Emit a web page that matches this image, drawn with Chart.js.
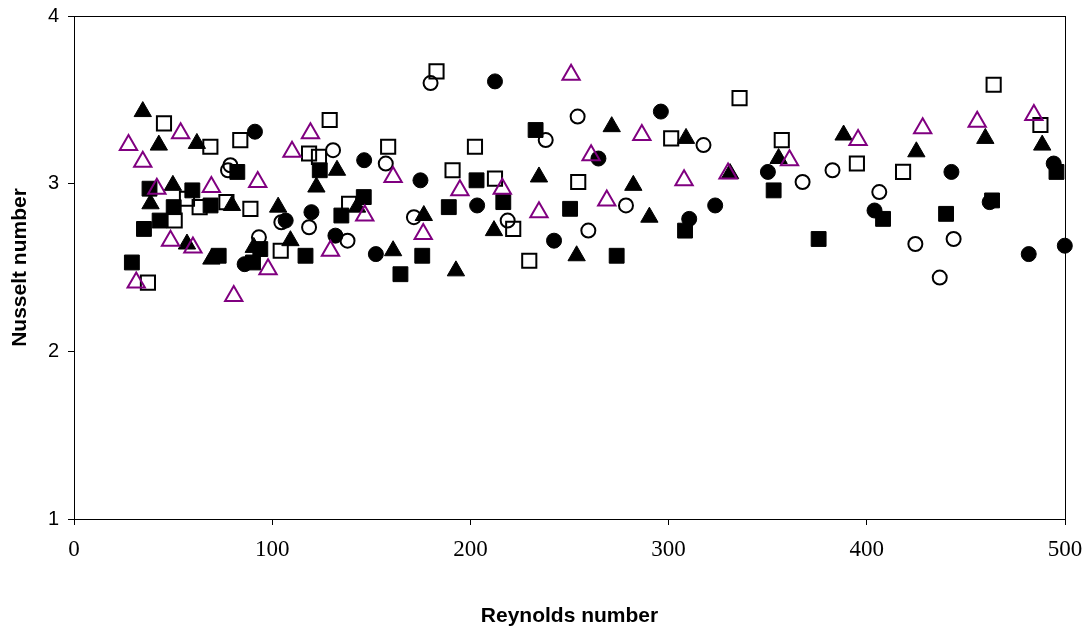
<!DOCTYPE html>
<html>
<head>
<meta charset="utf-8">
<script src="https://cdn.jsdelivr.net/npm/chart.js@4"></script>
<style>
  html, body { margin: 0; padding: 0; background: #fff; }
  #wrap { width: 1089px; height: 632px; }
</style>
</head>
<body>
<div id="wrap"><canvas id="nuChart" width="1089" height="632"></canvas></div>
<script>
// Reynolds / Nusselt pairs
const filledCircleRe = [86.1, 91.3, 106.8, 119.8, 131.9, 146.4, 152.3, 174.8, 203.4, 212.4, 242.2, 264.6, 296.1, 310.4, 323.5, 350.1, 403.9, 442.7, 462.0, 481.7, 494.3, 499.9];
const filledCircleNu = [2.52, 3.31, 2.78, 2.83, 2.69, 3.14, 2.58, 3.02, 2.87, 3.61, 2.66, 3.15, 3.43, 2.79, 2.87, 3.07, 2.84, 3.07, 2.89, 2.58, 3.12, 2.63];

const openCircleRe = [77.7, 78.9, 93.3, 104.6, 118.6, 130.7, 138.0, 157.3, 171.5, 179.9, 218.8, 238.0, 254.1, 259.5, 278.5, 317.6, 367.6, 382.7, 406.3, 424.5, 436.8, 443.8];
const openCircleNu = [3.08, 3.11, 2.68, 2.77, 2.74, 3.20, 2.66, 3.12, 2.80, 3.60, 2.78, 3.26, 3.40, 2.72, 2.87, 3.23, 3.01, 3.08, 2.95, 2.64, 2.44, 2.67];

const filledSquareRe = [29.2, 35.3, 38.1, 43.2, 50.3, 59.7, 68.9, 73.0, 82.4, 90.3, 94.0, 116.8, 124.0, 134.9, 146.2, 164.7, 175.7, 189.1, 203.1, 216.6, 232.9, 250.3, 273.8, 308.3, 353.0, 375.7, 408.2, 440.0, 463.2, 495.7];
const filledSquareNu = [2.53, 2.73, 2.97, 2.78, 2.86, 2.96, 2.87, 2.57, 3.07, 2.53, 2.61, 2.57, 3.08, 2.81, 2.92, 2.46, 2.57, 2.86, 3.02, 2.89, 3.32, 2.85, 2.57, 2.72, 2.96, 2.67, 2.79, 2.82, 2.90, 3.07];

const openSquareRe = [37.3, 45.4, 50.8, 57.0, 63.4, 68.8, 76.9, 83.9, 89.0, 104.3, 118.6, 123.6, 129.0, 138.8, 158.5, 182.9, 191.0, 202.3, 212.4, 221.6, 229.7, 254.4, 301.3, 335.8, 357.1, 395.0, 418.3, 464.0, 487.6];
const openSquareNu = [2.41, 3.36, 2.78, 2.91, 2.86, 3.22, 2.89, 3.26, 2.85, 2.60, 3.18, 3.16, 3.38, 2.88, 3.22, 3.67, 3.08, 3.22, 3.03, 2.73, 2.54, 3.01, 3.27, 3.51, 3.26, 3.12, 3.07, 3.59, 3.35];

const filledTriangleRe = [34.7, 38.6, 42.8, 49.9, 57.0, 62.0, 69.3, 79.7, 90.7, 103.0, 109.2, 122.3, 132.7, 142.8, 161.0, 176.5, 192.7, 211.9, 234.6, 253.6, 271.3, 282.2, 290.3, 308.8, 331.0, 355.5, 388.3, 425.0, 459.8, 488.5];
const filledTriangleNu = [3.43, 2.88, 3.23, 2.99, 2.64, 3.24, 2.55, 2.87, 2.62, 2.86, 2.66, 2.98, 3.08, 2.86, 2.60, 2.81, 2.48, 2.72, 3.04, 2.57, 3.34, 2.99, 2.80, 3.27, 3.06, 3.15, 3.29, 3.19, 3.27, 3.23];

const openTriangleRe = [27.5, 31.4, 34.7, 41.8, 48.7, 53.8, 60.0, 69.3, 80.6, 92.7, 97.9, 110.0, 119.3, 129.4, 146.7, 161.0, 176.2, 194.7, 216.1, 234.6, 250.8, 260.9, 268.8, 286.5, 307.8, 330.0, 361.0, 395.6, 428.2, 455.7, 484.3];
const openTriangleNu = [3.23, 2.41, 3.13, 2.97, 2.66, 3.30, 2.62, 2.98, 2.33, 3.01, 2.49, 3.19, 3.30, 2.60, 2.81, 3.04, 2.70, 2.96, 2.97, 2.83, 3.65, 3.17, 2.90, 3.29, 3.02, 3.06, 3.14, 3.26, 3.33, 3.37, 3.41];

const xTicks = [0, 100, 200, 300, 400, 500];
const yTicks = [1, 2, 3, 4];

const pairs = (xs, ys) => xs.map((x, i) => ({ x: x, y: ys[i] }));

const sansFont = "'Liberation Sans', Arial, sans-serif";
const serifFont = "'Liberation Serif', 'Times New Roman', serif";

// cadre complet autour de la zone de tracé
const frame = {
    id: "frame",
    afterDraw(chart) {
        const a = chart.chartArea;
        const c = chart.ctx;
        c.save();
        c.strokeStyle = "#000";
        c.lineWidth = 1;
        c.strokeRect(Math.round(a.left) + 0.5, Math.round(a.top) + 0.5,
            Math.round(a.right - a.left), Math.round(a.bottom - a.top));
        c.restore();
    }
};

function marker(data, style, radius, filled, color) {
    return {
        data: data,
        pointStyle: style,
        pointRadius: radius,
        pointHoverRadius: radius,
        pointBackgroundColor: filled ? color : "rgba(0,0,0,0)",
        pointBorderColor: color,
        pointBorderWidth: filled ? 1 : 2,
        showLine: false,
        clip: false
    };
}

const ctx = document.getElementById("nuChart").getContext("2d");

new Chart(ctx, {
    type: "scatter",
    data: {
        datasets: [
            marker(pairs(openTriangleRe, openTriangleNu), "triangle", 10, false, "#800080"),
            marker(pairs(filledTriangleRe, filledTriangleNu), "triangle", 10, true, "#000"),
            marker(pairs(openSquareRe, openSquareNu), "rect", 10, false, "#000"),
            marker(pairs(filledSquareRe, filledSquareNu), "rect", 10.5, true, "#000"),
            marker(pairs(openCircleRe, openCircleNu), "circle", 7, false, "#000"),
            marker(pairs(filledCircleRe, filledCircleNu), "circle", 7.5, true, "#000")
        ]
    },
    options: {
        responsive: false,
        animation: false,
        layout: { padding: { left: 0, right: 24, top: 16, bottom: 0 } },
        plugins: {
            legend: { display: false },
            tooltip: { enabled: false }
        },
        scales: {
            x: {
                type: "linear",
                min: 0,
                max: 500,
                afterFit: (axis) => {
                    axis.height = 113;
                    axis.paddingLeft = 0;
                    axis.paddingRight = 0;
                },
                afterBuildTicks: (axis) => { axis.ticks = xTicks.map(v => ({ value: v })); },
                border: { display: true, color: "#000", width: 1 },
                grid: { drawOnChartArea: false, drawTicks: true, tickLength: 6, tickColor: "#000" },
                ticks: {
                    color: "#000",
                    padding: 11,
                    maxRotation: 0,
                    font: { family: serifFont, size: 23 }
                },
                title: {
                    display: true,
                    text: "Reynolds number",
                    color: "#000",
                    padding: { top: 0, bottom: 3 },
                    font: { family: sansFont, size: 21, weight: "bold" }
                }
            },
            y: {
                type: "linear",
                min: 1,
                max: 4,
                afterFit: (axis) => {
                    axis.width = 74;
                    axis.paddingTop = 0;
                    axis.paddingBottom = 0;
                },
                afterBuildTicks: (axis) => { axis.ticks = yTicks.map(v => ({ value: v })); },
                border: { display: true, color: "#000", width: 1 },
                grid: { drawOnChartArea: false, drawTicks: true, tickLength: 6, tickColor: "#000" },
                ticks: {
                    color: "#000",
                    padding: 9,
                    font: { family: sansFont, size: 20 }
                },
                title: {
                    display: true,
                    text: "Nusselt number",
                    color: "#000",
                    padding: { top: 8, bottom: 0 },
                    font: { family: sansFont, size: 21, weight: "bold" }
                }
            }
        }
    },
    plugins: [frame]
});
</script>
</body>
</html>
